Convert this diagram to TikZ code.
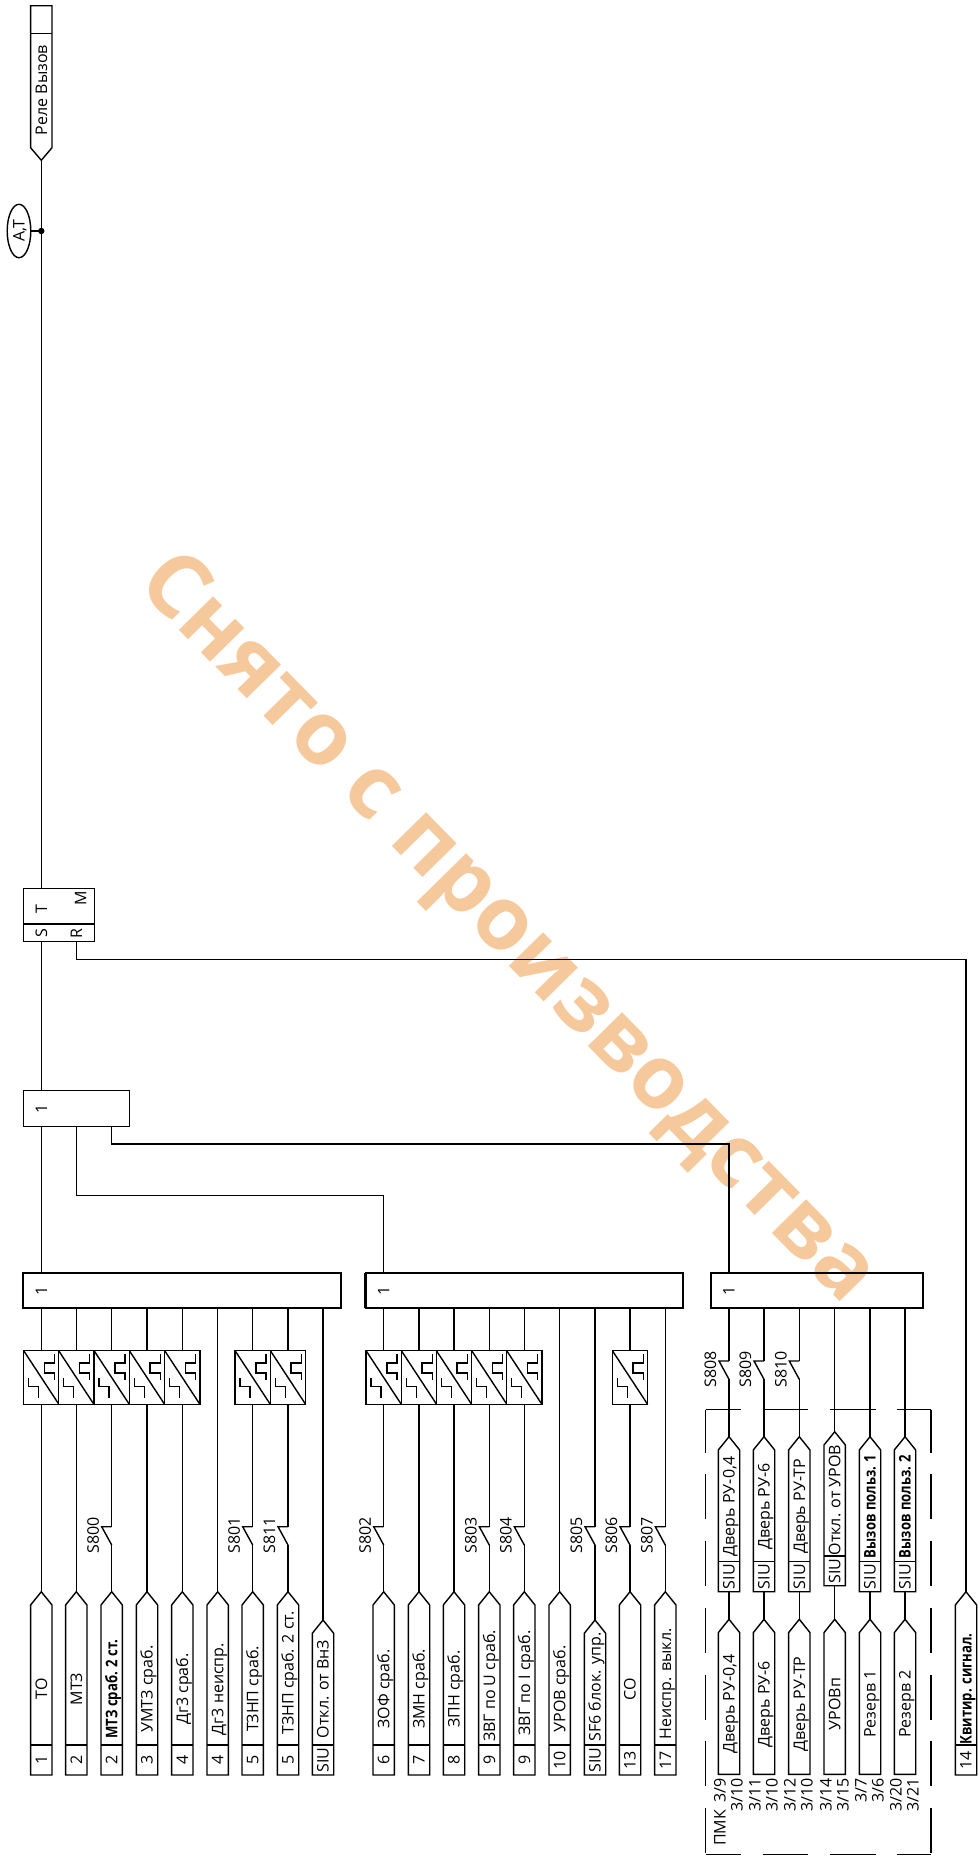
\documentclass[tikz,border=0pt]{standalone}
\usepackage{fontspec}
\setmainfont{Open Sans}
\newfontfamily\tagbold[FakeStretch=0.82]{Open Sans Bold}
\newfontfamily\stampfont{Open Sans Bold}
\usepackage{tikz}
\usetikzlibrary{shapes}
\definecolor{stamp-orange}{HTML}{F5C99C}

\tikzset{
  wire/.style={black, line width=1.4pt},
  rottext/.style={rotate=90, inner sep=0pt, outer sep=0pt, text height=11.4pt, text depth=0pt, font=\fontsize{16}{16}\selectfont},
  orbox/.style={draw, line width=1.7pt, rectangle, anchor=north west, inner sep=0pt, outer sep=0pt},
  convbox/.style={draw, line width=1.4pt, fill=white, rectangle, minimum width=35.2pt, minimum height=53.6pt, inner sep=0pt, outer sep=0pt},
  pmkdash/.style={line width=1.4pt}
}

\newcommand{\sigbody}[6]{
  \coordinate (#1) at (#2,#3);
  \coordinate (#1bot) at (#2,#4);
  \draw[wire] (#1) -- (#2+10.7,#3+13.3) -- (#2+10.7,#4) -- (#2-10.7,#4) -- (#2-10.7,#3+13.3) -- cycle;
  \node[rottext] (#1text) at (#2,#5) {#6};
}
\newcommand{\sigtag}[8]{
  \sigbody{#1}{#2}{#3}{#5}{#6}{#7}
  \draw[wire] (#2-10.7,#4) -- (#2+10.7,#4);
  \node[rottext] (#1code) at (#2,{(#4+#5)/2}) {#8};
}
\newcommand{\contact}[4]{
  \coordinate (#1a) at (#2,#3);
  \coordinate (#1b) at (#2,#3+18.3);
  \coordinate (#1c) at (#2-10,#3);
  \draw[wire] (#1a) -- (#1c) -- (#1b);
  \node[rottext] (#1label) at (#2-18.5,#3+8.3) {#4};
}
\newcommand{\convsym}[1]{
  \draw[wire] (#1.north west) -- (#1.south east);
  \draw[wire] ([shift={(31,3.3)}]#1.north west) -- ++(0,9) -- ++(-10.3,0) -- ++(0,10) -- ++(10.3,0) -- ++(0,6.7);
  \draw[wire] ([shift={(5,27.3)}]#1.north west) -- ++(0,8.4) -- ++(10,0) -- ++(0,11.6);
}

\begin{document}
\begin{tikzpicture}[x=1pt,y=-1pt]
\useasboundingbox (0,0) rectangle (979,1858);
\node[rotate=-45.5, text=stamp-orange, inner sep=0pt, font=\fontsize{88}{88}\stampfont] (stamp) at (505,931) {Снято с производства};

\coordinate (rowconv) at (0,1377.5);

% output side
\node[draw, wire, rectangle, anchor=north west, minimum width=71pt, minimum height=53.4pt, inner sep=0pt, outer sep=0pt] (trig) at (23.3,888.3) {};
\coordinate (trigdiv) at (23.3,924);
\draw[wire] (trigdiv) -- (trigdiv -| trig.east);
\node[rottext] (trigT) at (41.3,909) {T};
\node[rottext] (trigM) at (80.7,898) {M};
\node[rottext] (trigS) at (41.3,933.3) {S};
\node[rottext] (trigR) at (76.3,933.3) {R};
\coordinate (trigtop) at (41.3,888.3);
\coordinate (rele) at (41.3,160.3);
\draw[wire] (rele) -- (52,147.7) -- (52,5.7) -- (30.6,5.7) -- (30.6,147.7) -- cycle;
\draw[wire] (30.6,33.3) -- (52,33.3);
\node[rottext] (reletext) at (41.3,90) {Реле Вызов};
\coordinate (dot) at (41.3,231);
\node[draw, wire, ellipse, minimum width=23.6pt, minimum height=53.4pt, inner sep=0pt, outer sep=0pt] (alarm) at (19,231) {};
\node[rottext] (alarmtext) at (19,231) {A,T};
\fill (dot) circle (3.2pt);
\draw[wire] (rele) -- (trigtop);
\draw[wire] (alarm.east) -- (dot);

\node[orbox, line width=1.4pt, minimum width=106pt, minimum height=36pt] (orM) at (23.3,1090.7) {};
\node[rottext] (orMone) at (41.3,1109) {1};

% three input blocks
\node[orbox, minimum width=318pt, minimum height=35.3pt] (orA) at (23,1273) {};
\node[orbox, minimum width=317.3pt, minimum height=35.3pt] (orB) at (365.7,1273) {};
\node[orbox, minimum width=211.7pt, minimum height=35.3pt] (orC) at (711,1273) {};
\node[rottext] (orAone) at (41.3,1290.7) {1};
\node[rottext] (orBone) at (383.7,1290.7) {1};
\node[rottext] (orCone) at (729,1290.7) {1};
\foreach \b in {orA,orB,orC}
  \draw[line width=2.8pt] (\b.south west) -- (\b.north west);

\draw[wire] (trigS |- trig.south) -- (trigS |- orM.north);
\draw[wire] (trigR |- trig.south) -- (76.3,959.3) -| (966,1591.7);
\draw[wire] (41.3,1126.7) -- (41.3,1273);
\draw[wire] (76.3,1126.7) -- (76.3,1195.3) -| (383.7,1273);
\draw[wire] (111.7,1126.7) -- (111.7,1143.8) -| (729,1273);

% first block
\foreach \n/\x/\tip/\ty/\lab/\code in {
  1/41.3/1591.7/1689/ТО/1, 2/76.3/1591.7/1689/МТЗ/2, 3/111.7/1591.7/1689/{\tagbold МТЗ сраб. 2 ст.}/2,
  4/147/1591.7/1689/УМТЗ сраб./3, 5/182.3/1591.7/1689/Дг3 сраб./4, 6/217.7/1591.7/1689/Дг3 неиспр./4,
  7/252.7/1591.7/1689/ТЗНП сраб./5, 8/288/1591.7/1673/ТЗНП сраб. 2 ст./5, 9/323/1620/1689/Откл. от ВнЗ/SIU}{
  \sigtag{ta\n}{\x}{\tip}{1745}{1775}{\ty}{\lab}{\code}
}
\foreach \n in {1,2,3,4,5,7,8}{
  \node[convbox] (ca\n) at (ta\n |- rowconv) {};
  \convsym{ca\n}
  \draw[wire] (ca\n.north) -- (ca\n.north |- orA.south);
}
\foreach \n in {1,2,4,5}
  \draw[wire] (ta\n) -- (ca\n.south);
\foreach \n/\x/\s in {3/111.7/S800,7/252.7/S801,8/288/S811}{
  \contact{ka\n}{\x}{1526.7}{\s}
  \draw[wire] (ta\n) -- (ka\n b);
  \draw[wire] (ka\n a) -- (ca\n.south);
}
\foreach \n in {6,9}
  \draw[wire] (ta\n) -- (ta\n |- orA.south);

% second block
\foreach \n/\x/\tip/\ty/\lab/\code in {
  1/383.7/1591.7/1689/ЗОФ сраб./6, 2/419/1591.7/1689/ЗМН сраб./7, 3/454/1591.7/1689/ЗПН сраб./8,
  4/489.3/1591.7/1686/ЗВГ по U сраб./9, 5/524.3/1591.7/1683/ЗВГ по I сраб./9, 6/559.7/1591.7/1689/УРОВ сраб./10,
  7/595/1620/1687/SF6 блок. упр./SIU, 8/630/1591.7/1689/СО/13, 9/665.3/1591.7/1684/Неиспр. выкл./17}{
  \sigtag{tb\n}{\x}{\tip}{1745}{1775}{\ty}{\lab}{\code}
}
\foreach \n in {1,2,3,4,5,8}{
  \node[convbox] (cb\n) at (tb\n |- rowconv) {};
  \convsym{cb\n}
  \draw[wire] (cb\n.north) -- (cb\n.north |- orB.south);
}
\foreach \n in {2,3}
  \draw[wire] (tb\n) -- (cb\n.south);
\foreach \n/\x/\s in {1/383.7/S802,4/489.3/S803,5/524.3/S804,8/630/S806}{
  \contact{kb\n}{\x}{1526.7}{\s}
  \draw[wire] (tb\n) -- (kb\n b);
  \draw[wire] (kb\n a) -- (cb\n.south);
}
\foreach \n/\x/\s in {7/595/S805,9/665.3/S807}{
  \contact{kb\n}{\x}{1526.7}{\s}
  \draw[wire] (tb\n) -- (kb\n b);
  \draw[wire] (kb\n a) -- (kb\n a |- orB.south);
}
\draw[wire] (tb6) -- (tb6 |- orB.south);

% third block, inside the PMK frame
\foreach \n/\x/\lab in {1/729/{Дверь РУ-0,4},2/764/Дверь РУ-6,3/799.3/Дверь РУ-ТР,5/870/{\tagbold Вызов польз. 1},6/905/{\tagbold Вызов польз. 2}}{
  \sigtag{tc\n}{\x}{1436.7}{1561.7}{1591.7}{1506.4}{\lab}{SIU}
}
\sigtag{tc4}{834.7}{1431.7}{1556}{1585.7}{1500}{Откл. от УРОВ}{SIU}
\foreach \n/\x/\lab in {1/729/{Дверь РУ-0,4},2/764/Дверь РУ-6,3/799.3/Дверь РУ-ТР,4/834.7/УРОВп,5/870/Резерв 1,6/905/Резерв 2}{
  \sigbody{td\n}{\x}{1619.3}{1774.3}{1704}{\lab}
  \draw[wire] (tc\n bot) -- (td\n);
}
\foreach \n/\x/\s in {1/729/S808,2/764/S809,3/799.3/S810}{
  \contact{kc\n}{\x}{1361}{\s}
  \draw[wire] (tc\n) -- (kc\n b);
  \draw[wire] (kc\n a) -- (kc\n a |- orC.south);
}
\foreach \n in {4,5,6}
  \draw[wire] (tc\n) -- (tc\n |- orC.south);

\foreach \x/\t [count=\i] in {720/{3/9},737/{3/10},755/{3/11},772/{3/10},790/{3/12},807/{3/10},826/{3/14},843/{3/15},861/{3/7},878/{3/6},896/{3/20},913/{3/21}}
  \node[rottext, anchor=east] (pin\i) at (\x,1778) {\t};
\node[rottext] (pmk) at (720,1828) {ПМК};

\coordinate (frameNW) at (705.7,1409.7);
\coordinate (frameNE) at (931,1409.7);
\coordinate (frameSW) at (705.7,1854.3);
\coordinate (frameSE) at (931,1854.3);
\draw[pmkdash, dash pattern=on 45.6pt off 21.8pt, dash phase=10.5pt] (frameNW) -- (frameNE);
\draw[pmkdash, dash pattern=on 45.6pt off 21.8pt, dash phase=10.5pt] (frameSW) -- (frameSE);
\draw[pmkdash, dash pattern=on 45pt off 21.7pt, dash phase=2pt] (frameNW) -- (frameSW);
\draw[pmkdash, dash pattern=on 45pt off 21.7pt, dash phase=2pt] (frameNE) -- (frameSE);

% acknowledge input
\sigtag{tq}{966}{1591.7}{1745}{1775}{1689}{\tagbold Квитир. сигнал.}{14}
\end{tikzpicture}
\end{document}
